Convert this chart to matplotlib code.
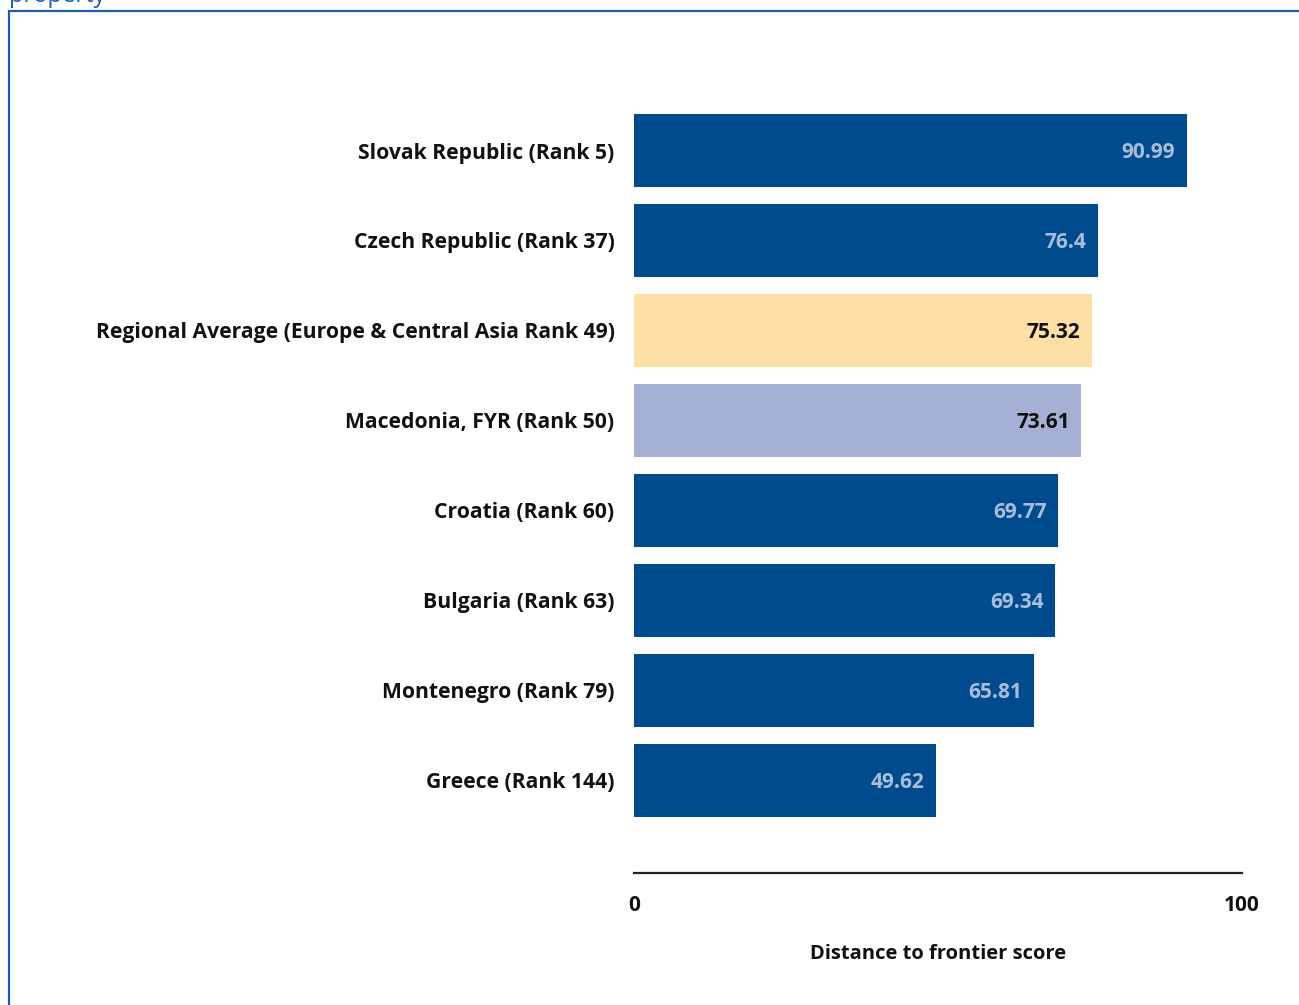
import matplotlib

matplotlib.use("Agg")
import matplotlib.pyplot as plt
from matplotlib.patches import Rectangle

# data, top to bottom
labels = [
    "Slovak Republic (Rank 5)",
    "Czech Republic (Rank 37)",
    "Regional Average (Europe & Central Asia Rank 49)",
    "Macedonia, FYR (Rank 50)",
    "Croatia (Rank 60)",
    "Bulgaria (Rank 63)",
    "Montenegro (Rank 79)",
    "Greece (Rank 144)",
]
scores = [90.99, 76.4, 75.32, 73.61, 69.77, 69.34, 65.81, 49.62]
kinds = ["peer", "peer", "region", "focus", "peer", "peer", "peer", "peer"]

BAR_COLORS = {"peer": "#004b8d", "region": "#fee0a6", "focus": "#a5b0d4"}
TEXT_COLORS = {"peer": "#a9bddb", "region": "#111111", "focus": "#111111"}
FRAME_BLUE = "#1d5ea8"

plt.rcParams["font.family"] = ["Open Sans", "DejaVu Sans"]

W, H = 1299, 1005
fig = plt.figure(figsize=(W / 100, H / 100), dpi=100)

# axes placed so that 0..100 spans px 634..1242 and the axis line sits at y=873
left, right = 634 / W, 1241.7 / W
top, bottom = 1 - 60 / H, 1 - 873 / H
ax = fig.add_axes([left, bottom, right - left, top - bottom])

ypos = list(range(len(labels)))
ax.barh(ypos, scores, height=0.81, color=[BAR_COLORS[k] for k in kinds])
for y, v, k in zip(ypos, scores, kinds):
    ax.text(v - 1.9, y + 0.02, f"{v:g}", ha="right", va="center", fontsize=15,
            fontweight="bold", color=TEXT_COLORS[k])

ax.set_xlim(0, 100)
ax.set_ylim(8.03, -1.006)
ax.set_yticks(ypos)
ax.set_yticklabels(labels, fontsize=15.2, fontweight="bold", color="#111111")
ax.tick_params(axis="y", length=0, pad=14)
ax.set_xticks([0, 100])
ax.set_xticklabels(["0", "100"], fontsize=15, fontweight="bold", color="#111111")
ax.tick_params(axis="x", length=0, pad=16)
ax.set_xlabel("Distance to frontier score", fontsize=14.5, fontweight="bold",
              color="#111111", labelpad=20)
for s in ("top", "right", "left"):
    ax.spines[s].set_visible(False)
ax.spines["bottom"].set_linewidth(1.6)
ax.spines["bottom"].set_color("#222222")

# surrounding blue frame and the clipped heading above it
fig.patches.append(Rectangle((9 / W, -0.05), 1.0, 1 - 11 / H + 0.05,
                             transform=fig.transFigure, fill=False,
                             edgecolor=FRAME_BLUE, linewidth=1.6))
fig.text(9 / W, 1 - 2 / H, "property", fontsize=17, color=FRAME_BLUE,
         va="baseline", ha="left")

fig.savefig("out.png", dpi=100)
